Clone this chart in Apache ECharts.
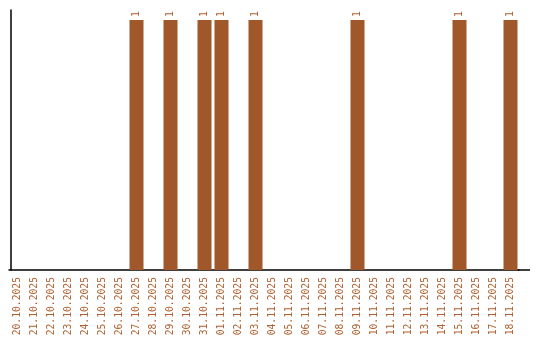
<!DOCTYPE html>
<html><head><meta charset="utf-8">
<script src="https://cdn.jsdelivr.net/npm/echarts@6/dist/echarts.min.js"></script>
<style>html,body{margin:0;padding:0;background:#fff}#c{width:540px;height:340px}</style>
</head><body><div id="c"></div>
<script>
var categories = ["20.10.2025","21.10.2025","22.10.2025","23.10.2025","24.10.2025","25.10.2025","26.10.2025","27.10.2025","28.10.2025","29.10.2025","30.10.2025","31.10.2025","01.11.2025","02.11.2025","03.11.2025","04.11.2025","05.11.2025","06.11.2025","07.11.2025","08.11.2025","09.11.2025","10.11.2025","11.11.2025","12.11.2025","13.11.2025","14.11.2025","15.11.2025","16.11.2025","17.11.2025","18.11.2025"];
var values = [0,0,0,0,0,0,0,1,0,1,0,1,1,0,1,0,0,0,0,0,1,0,0,0,0,0,1,0,0,1];
var color = "#a0582a";
var chart = echarts.init(document.getElementById('c'));
chart.setOption({
  animation:false,
  grid:{left:9,right:21,top:10,bottom:70,containLabel:false},
  graphic:[{type:'line',shape:{x1:518,y1:270,x2:530,y2:270},style:{stroke:'#000',lineWidth:1.5}}],
  xAxis:{type:'category',data:categories,
    axisLine:{lineStyle:{color:'#000',width:1.5}},
    axisTick:{show:false},
    axisLabel:{rotate:90,interval:0,color:'#b0602f',fontFamily:'DejaVu Sans Mono',fontSize:9.7,margin:7}},
  yAxis:{type:'value',min:0,max:1.04,offset:-1.5,
    axisLine:{show:true,lineStyle:{color:'#000',width:1.5}},
    axisTick:{show:false},axisLabel:{show:false},splitLine:{show:false}},
  series:[{type:'bar',data:values.map(function(v){return v===0?{value:0,label:{show:false}}:v;}),barWidth:14,
    itemStyle:{color:color},
    label:{show:true,position:'top',rotate:90,align:'left',verticalAlign:'middle',distance:3,color:'#b0602f',fontFamily:'DejaVu Sans Mono',fontSize:9.7}}]
});
</script></body></html>
